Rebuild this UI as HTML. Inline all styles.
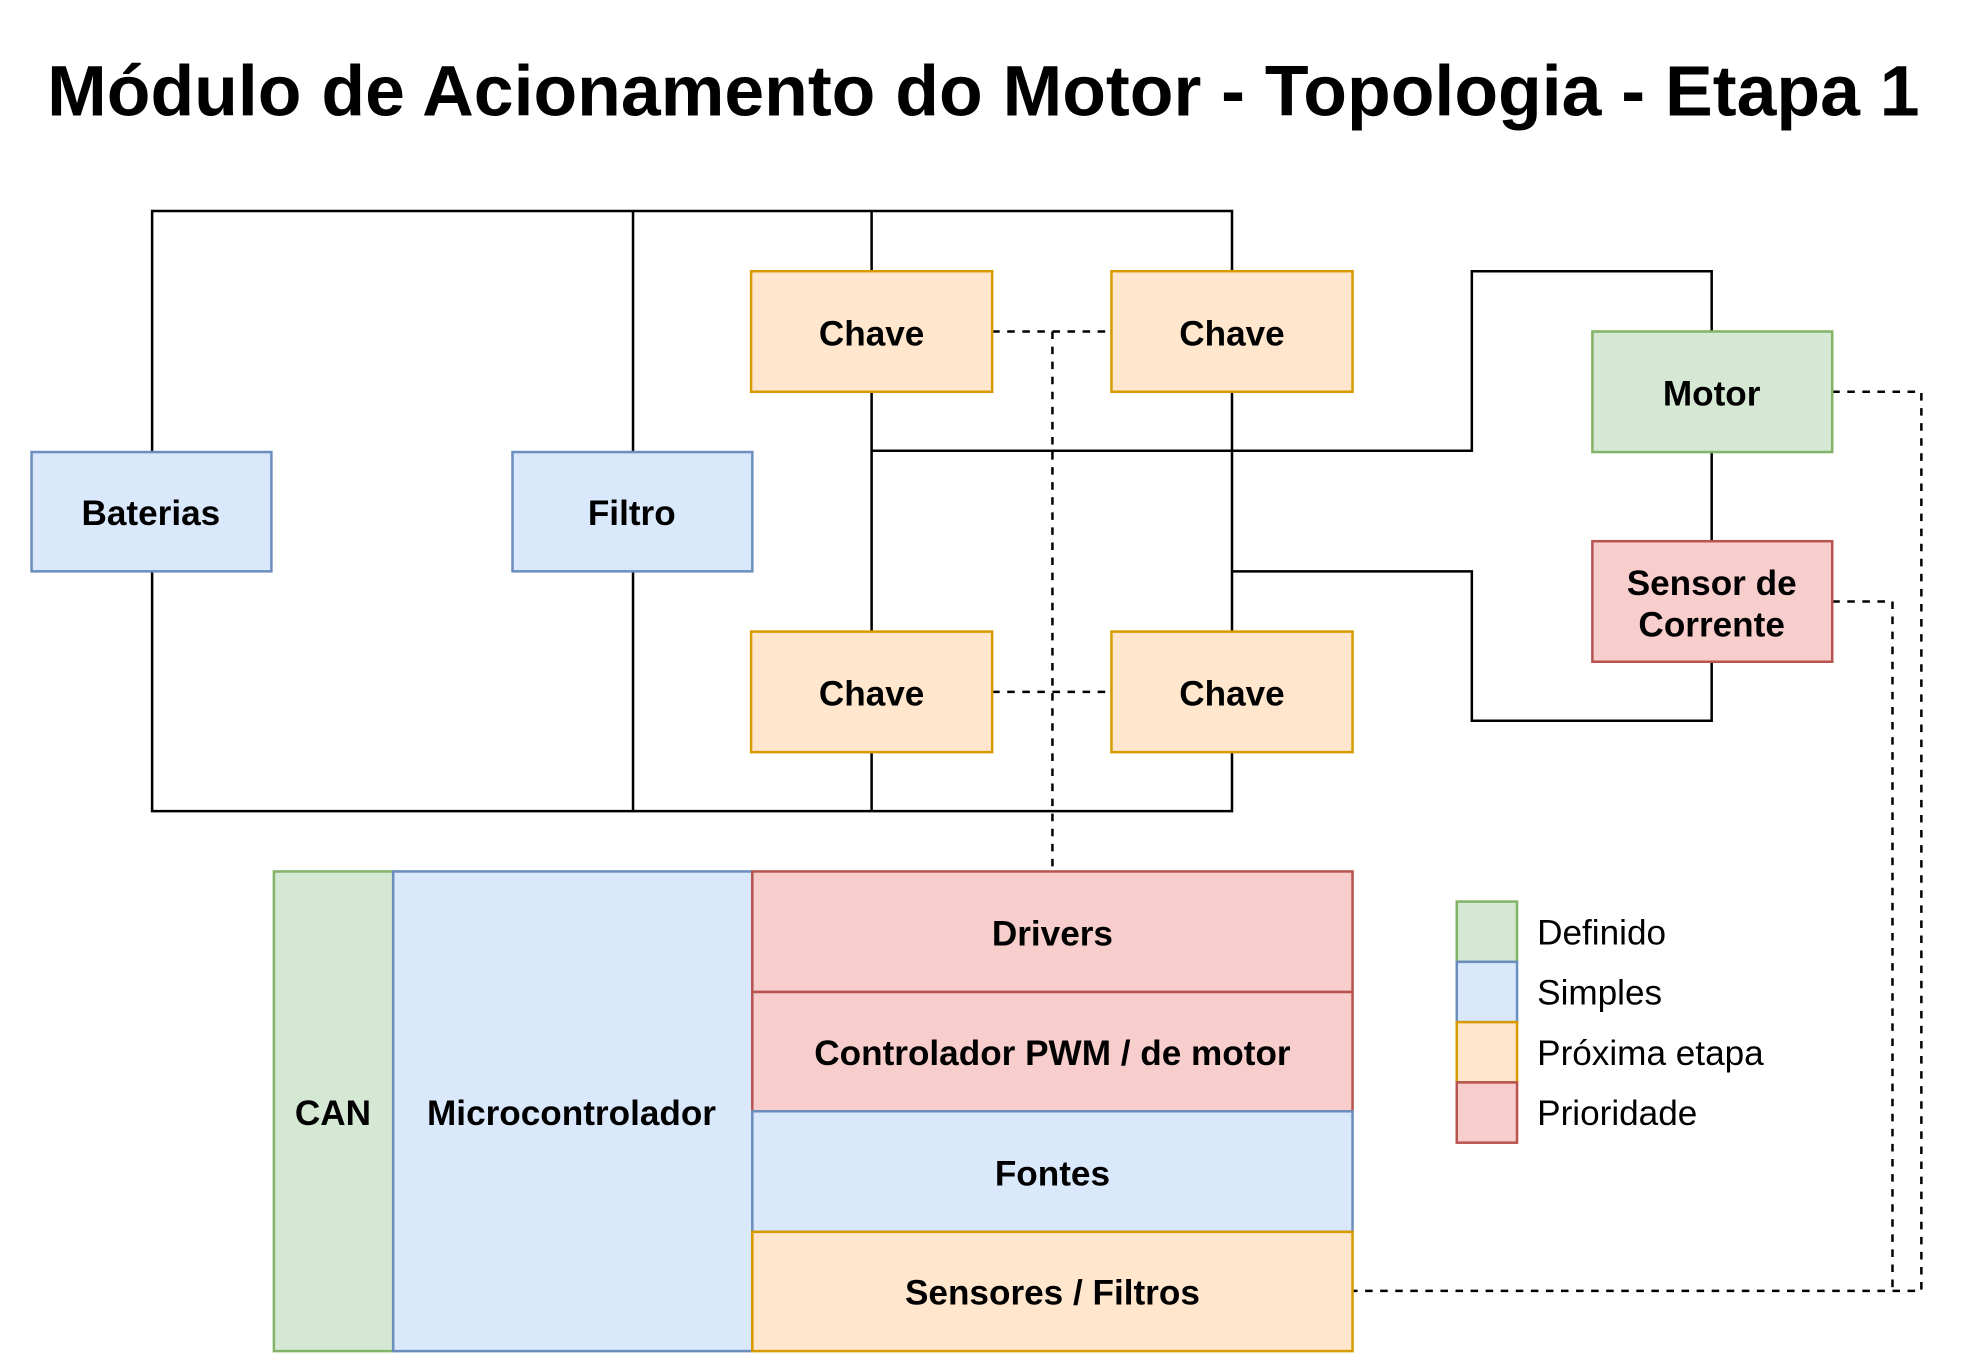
<!DOCTYPE html>
<html><head><meta charset="utf-8"><style>html,body{margin:0;padding:0;background:#fff}svg{display:block}</style></head>
<body>
<svg width="1968" height="1353" viewBox="0 0 1567 1077.5" xmlns="http://www.w3.org/2000/svg" font-family="Liberation Sans, sans-serif">
<rect width="1567" height="1077.5" fill="#fff"/>
<text x="783" y="92" font-size="57" font-weight="bold" text-anchor="middle">Módulo de Acionamento do Motor - Topologia - Etapa 1</text>
<g stroke="#000" stroke-width="2" fill="none">
<polyline points="121,360 121,168 981,168 981,216"/>
<line x1="504" y1="168" x2="504" y2="360"/>
<line x1="694" y1="168" x2="694" y2="216"/>
<polyline points="121,455 121,646 981,646 981,599"/>
<line x1="504" y1="455" x2="504" y2="646"/>
<line x1="694" y1="599" x2="694" y2="646"/>
<line x1="694" y1="312" x2="694" y2="503"/>
<line x1="981" y1="312" x2="981" y2="503"/>
<polyline points="694,359 1172,359 1172,216 1363,216 1363,264"/>
<polyline points="981,455 1172,455 1172,574 1363,574 1363,527"/>
<line x1="1363" y1="360" x2="1363" y2="431"/>
</g>
<g stroke="#000" stroke-width="2" fill="none" stroke-dasharray="6,6">
<line x1="790" y1="264" x2="885" y2="264"/>
<line x1="790" y1="551" x2="885" y2="551"/>
<line x1="838" y1="264" x2="838" y2="694"/>
<polyline points="1459,312 1530,312 1530,1028 1077,1028"/>
<polyline points="1459,479 1507,479 1507,1028"/>
</g>
<g stroke-width="2">
<rect x="25" y="360" width="191" height="95" fill="#dae8fc" stroke="#6c8ebf"/>
<rect x="408" y="360" width="191" height="95" fill="#dae8fc" stroke="#6c8ebf"/>
<rect x="598" y="216" width="192" height="96" fill="#ffe6cc" stroke="#d79b00"/>
<rect x="885" y="216" width="192" height="96" fill="#ffe6cc" stroke="#d79b00"/>
<rect x="598" y="503" width="192" height="96" fill="#ffe6cc" stroke="#d79b00"/>
<rect x="885" y="503" width="192" height="96" fill="#ffe6cc" stroke="#d79b00"/>
<rect x="1268" y="264" width="191" height="96" fill="#d5e8d4" stroke="#82b366"/>
<rect x="1268" y="431" width="191" height="96" fill="#f8cecc" stroke="#b85450"/>
<rect x="218" y="694" width="95" height="382" fill="#d5e8d4" stroke="#82b366"/>
<rect x="313" y="694" width="286" height="382" fill="#dae8fc" stroke="#6c8ebf"/>
<rect x="599" y="694" width="478" height="96" fill="#f8cecc" stroke="#b85450"/>
<rect x="599" y="790" width="478" height="95" fill="#f8cecc" stroke="#b85450"/>
<rect x="599" y="885" width="478" height="96" fill="#dae8fc" stroke="#6c8ebf"/>
<rect x="599" y="981" width="478" height="95" fill="#ffe6cc" stroke="#d79b00"/>
<rect x="1160" y="718" width="48" height="48" fill="#d5e8d4" stroke="#82b366"/>
<rect x="1160" y="766" width="48" height="48" fill="#dae8fc" stroke="#6c8ebf"/>
<rect x="1160" y="814" width="48" height="48" fill="#ffe6cc" stroke="#d79b00"/>
<rect x="1160" y="862" width="48" height="48" fill="#f8cecc" stroke="#b85450"/>
</g>
<g font-size="28" font-weight="bold" text-anchor="middle" fill="#000">
<text x="120" y="418">Baterias</text>
<text x="503" y="418">Filtro</text>
<text x="694" y="275">Chave</text>
<text x="981" y="275">Chave</text>
<text x="694" y="562">Chave</text>
<text x="981" y="562">Chave</text>
<text x="1363" y="323">Motor</text>
<text x="1363" y="474">Sensor de</text>
<text x="1363" y="507">Corrente</text>
<text x="265" y="896">CAN</text>
<text x="455" y="896">Microcontrolador</text>
<text x="838" y="753">Drivers</text>
<text x="838" y="848">Controlador PWM / de motor</text>
<text x="838" y="944">Fontes</text>
<text x="838" y="1039">Sensores / Filtros</text>
</g>
<g font-size="28" fill="#000">
<text x="1224" y="752">Definido</text>
<text x="1224" y="800">Simples</text>
<text x="1224" y="848">Próxima etapa</text>
<text x="1224" y="896">Prioridade</text>
</g>
</svg>
</body></html>
